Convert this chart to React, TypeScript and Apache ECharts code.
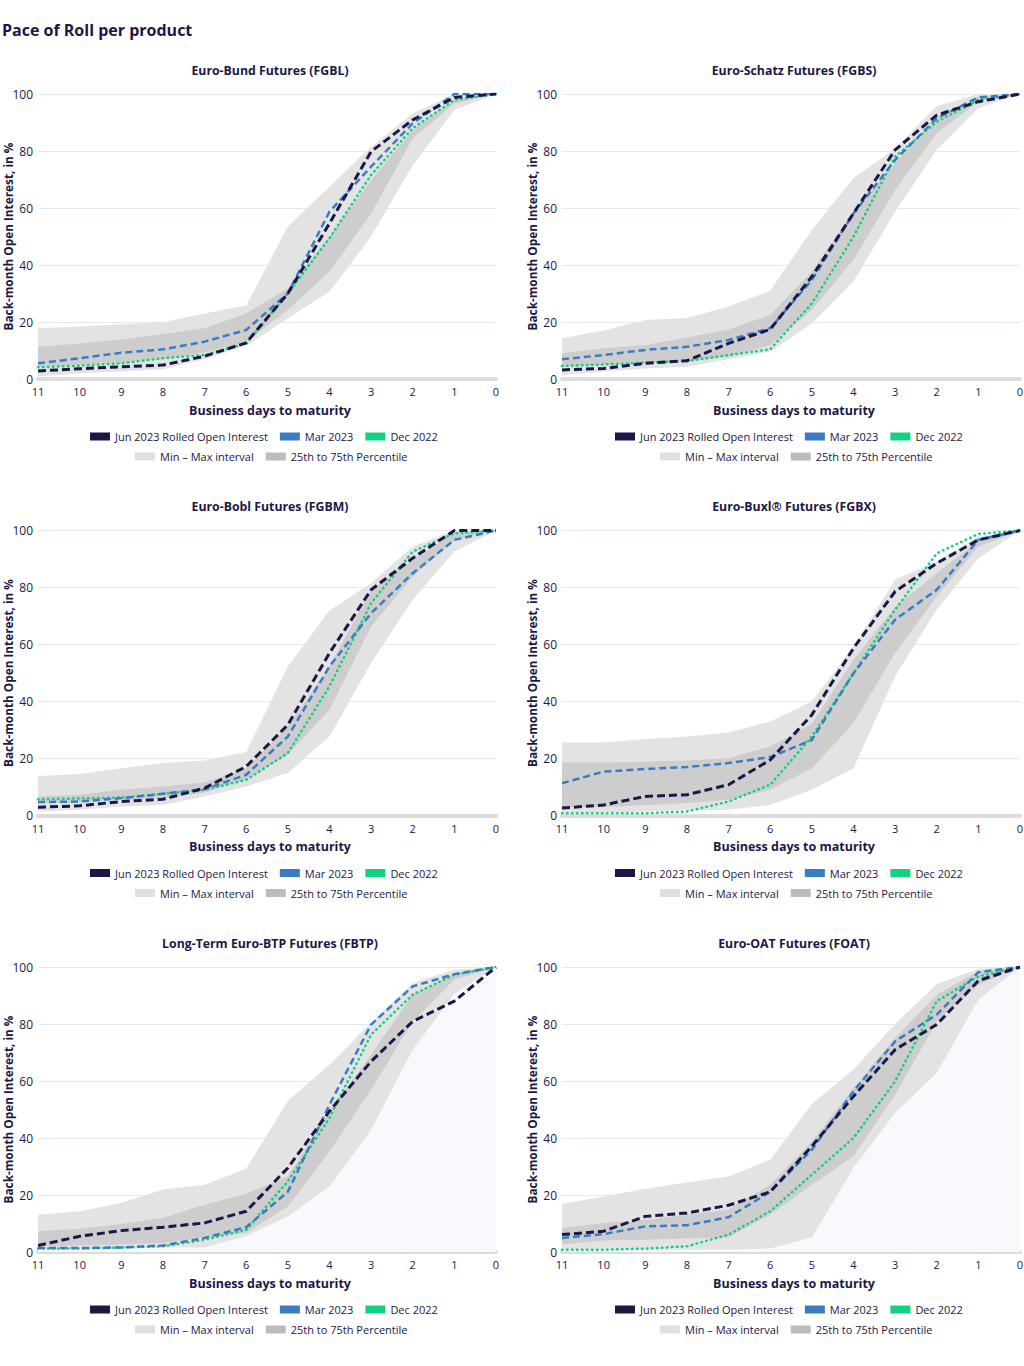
import React, { useEffect, useRef } from "react";
import * as echarts from "echarts";

const CATS = ["11", "10", "9", "8", "7", "6", "5", "4", "3", "2", "1", "0"];
const Y_TICKS = [0, 20, 40, 60, 80, 100];

const LEG_JUN = "Jun 2023 Rolled Open Interest";
const LEG_MAR = "Mar 2023";
const LEG_DEC = "Dec 2022";
const LEG_MM = "Min – Max interval";
const LEG_PP = "25th to 75th Percentile";
const Y_NAME = "Back-month Open Interest, in %";
const X_NAME = "Business days to maturity";

const TITLES = [
  "Euro-Bund Futures (FGBL)",
  "Euro-Schatz Futures (FGBS)",
  "Euro-Bobl Futures (FGBM)",
  "Euro-Buxl® Futures (FGBX)",
  "Long-Term Euro-BTP Futures (FBTP)",
  "Euro-OAT Futures (FOAT)",
];

// FGBL
const fgblJun = [2.8, 3.6, 4.3, 4.9, 8, 12.7, 30, 54.6, 79.8, 90.9, 98.8, 100];
const fgblMar = [5.5, 7.3, 9.2, 10.4, 13.1, 17.2, 30, 58.7, 74.5, 89.7, 100, 100];
const fgblDec = [4.1, 4.7, 5.5, 7.3, 8.4, 12.5, 30, 49.4, 71.6, 88, 97.9, 100];
const fgblMin = [1, 2, 2.6, 3.4, 6.9, 11.6, 21.3, 30.6, 50, 75, 94.4, 100];
const fgblMax = [17.8, 18.4, 19.2, 19.9, 23, 25.8, 53.5, 67.5, 81.5, 93.2, 100, 100];
const fgblP25 = [4.3, 4.9, 5.7, 6.9, 9.2, 13.1, 24.2, 37.7, 58, 84.4, 96.7, 100];
const fgblP75 = [11.3, 12.5, 13.9, 15.8, 17.8, 23, 31.8, 50, 69.8, 87.4, 97.9, 100];

// FGBS
const fgbsJun = [3.2, 3.7, 5.5, 6.4, 12.5, 17.4, 35.9, 58.1, 80.4, 92.6, 97.3, 100];
const fgbsMar = [6.9, 8.4, 10.2, 11.3, 13.7, 17.8, 34.7, 58.1, 76.8, 91.5, 98.8, 100];
const fgbsDec = [4.6, 5.1, 5.7, 6.3, 8.4, 10.4, 26.5, 49.9, 78, 90.3, 97.9, 100];
const fgbsMin = [1.4, 2.6, 3.7, 4.3, 6.9, 9.6, 19.5, 34.2, 58.7, 80.4, 95, 100];
const fgbsMax = [14.3, 17, 20.7, 21.4, 25.4, 31, 52.3, 70.4, 80.9, 95.8, 100, 100];
const fgbsP25 = [4.3, 4.9, 5.7, 6.1, 7.8, 11.9, 24.2, 41.8, 66.3, 86.2, 97.3, 100];
const fgbsP75 = [9, 10.8, 11.9, 14.6, 17.4, 22.5, 37.7, 58.7, 75.7, 92, 99, 100];

// FGBM
const fgbmJun = [2.9, 3.4, 4.9, 5.7, 9.6, 17.2, 31.8, 57, 79.2, 90.3, 100, 100];
const fgbmMar = [4.7, 4.9, 6.1, 7.6, 9.2, 14.3, 27.7, 52.3, 71, 85, 96.7, 100];
const fgbmDec = [5.7, 6, 6.3, 7.6, 9, 12.5, 21.9, 45.3, 74.5, 92.6, 99, 100];
const fgbmMin = [1.4, 2, 3.2, 3.7, 6.7, 10.2, 14.9, 27.7, 53.5, 75.7, 92.6, 100];
const fgbmMax = [13.9, 14.6, 16.6, 18.4, 19.3, 22.3, 52.3, 71.9, 81.5, 94.4, 100, 100];
const fgbmP25 = [4.3, 4.6, 5.5, 6.1, 8.1, 12.7, 21.3, 37.1, 66.3, 83.9, 96.7, 100];
const fgbmP75 = [6.7, 7.3, 9, 10.2, 11.6, 16.6, 31.2, 52.3, 79.2, 89.7, 99, 100];

// FGBX
const fgbxJun = [2.6, 3.7, 6.7, 7.3, 10.8, 19.5, 35.3, 58.7, 78.6, 88.5, 96.7, 100];
const fgbxMar = [11.3, 15.4, 16.3, 17, 18.4, 20.5, 26.5, 49.9, 68.7, 79.2, 96.7, 100];
const fgbxDec = [0.8, 0.8, 0.8, 1.4, 4.9, 10.8, 27.7, 49.9, 72.2, 92, 98.8, 100];
const fgbxMin = [0.8, 1, 1.4, 1.8, 2, 3.7, 9, 16.6, 48.8, 72.2, 90.3, 100];
const fgbxMax = [25.6, 25.6, 26.8, 27.7, 29.1, 33, 40, 59.3, 82.7, 89.1, 97.9, 100];
const fgbxP25 = [2.9, 2.9, 3.7, 4.3, 5.5, 9, 16.6, 32.4, 57, 76.8, 94.4, 100];
const fgbxP75 = [18.6, 18.6, 18.9, 19.3, 20.1, 24.2, 32.2, 54.6, 73.3, 85, 96.5, 100];

// FBTP
const fbtpJun = [2.3, 5.5, 7.5, 8.7, 10.2, 14.3, 29.5, 49.4, 66.9, 80.9, 88, 100];
const fbtpMar = [1.4, 1.4, 1.6, 2.3, 4.9, 8.7, 21.1, 51.7, 79.8, 93.2, 97.5, 100];
const fbtpDec = [1.2, 1.2, 1.6, 2, 4.3, 7.8, 24.8, 47, 76.3, 90.3, 97.3, 100];
const fbtpMin = [0.8, 1.2, 1.4, 1.6, 1.6, 5.5, 12.5, 23, 42.9, 71, 90.5, 100];
const fbtpMax = [13.1, 14.3, 17.2, 21.9, 23.6, 29.2, 53.1, 65.7, 80.4, 94.4, 99, 100];
const fbtpP25 = [2, 2.3, 2.6, 3.2, 5.1, 6.7, 16, 35.3, 57, 80.9, 95.6, 100];
const fbtpP75 = [7.3, 8.2, 9.8, 11.9, 16.6, 20.4, 26.5, 49.4, 69.2, 90.3, 97.5, 100];

// FOAT
const foatJun = [6.1, 7.3, 12.5, 13.7, 16.4, 21.1, 37.1, 54.6, 71, 79.8, 95.2, 100];
const foatMar = [4.9, 6.3, 9, 9.4, 12.2, 21.1, 35.9, 56.4, 73.9, 83.3, 98.2, 100];
const foatDec = [0.8, 0.8, 1.2, 2, 6.1, 14.3, 27.1, 40, 59.9, 88, 96.7, 100];
const foatMin = [0.8, 0.8, 0.8, 0.8, 0.8, 1.2, 5.1, 29.5, 48.8, 62.8, 88.5, 100];
const foatMax = [16.8, 19.5, 22.2, 24.4, 26.5, 32.4, 51.9, 64, 80, 94, 99.4, 100];
const foatP25 = [2.6, 4, 4.3, 4.7, 5.1, 13.1, 23.6, 33.6, 55.2, 80.9, 93.8, 100];
const foatP75 = [8.4, 10.2, 11.3, 13.1, 14.9, 23.6, 38.8, 57.5, 75, 90.3, 98.5, 100];

const PANELS = [
  { jun: fgblJun, mar: fgblMar, dec: fgblDec, min: fgblMin, max: fgblMax, p25: fgblP25, p75: fgblP75 },
  { jun: fgbsJun, mar: fgbsMar, dec: fgbsDec, min: fgbsMin, max: fgbsMax, p25: fgbsP25, p75: fgbsP75 },
  { jun: fgbmJun, mar: fgbmMar, dec: fgbmDec, min: fgbmMin, max: fgbmMax, p25: fgbmP25, p75: fgbmP75 },
  { jun: fgbxJun, mar: fgbxMar, dec: fgbxDec, min: fgbxMin, max: fgbxMax, p25: fgbxP25, p75: fgbxP75 },
  { jun: fbtpJun, mar: fbtpMar, dec: fbtpDec, min: fbtpMin, max: fbtpMax, p25: fbtpP25, p75: fbtpP75 },
  { jun: foatJun, mar: foatMar, dec: foatDec, min: foatMin, max: foatMax, p25: foatP25, p75: foatP75 },
];

const NAVY = "#1b1747";
const BLUE = "#3a7cc4";
const GREEN = "#10cf7f";
const BAND_LIGHT = "#e3e3e3";
const BAND_DARK = "#cdcdcd";
const FONT = "'Open Sans', sans-serif";

function buildOption() {
  const grids: any[] = [];
  const xAxes: any[] = [];
  const yAxes: any[] = [];
  const series: any[] = [];
  const legends: any[] = [];
  const graphics: any[] = [
    {
      type: "text",
      x: 2,
      y: 30,
      style: { text: "Pace of Roll per product", font: `bold 16px ${FONT}`, fill: NAVY, textVerticalAlign: "middle" },
    },
  ];

  PANELS.forEach((p, i) => {
    const col = i % 2;
    const row = Math.floor(i / 2);
    const gLeft = col === 0 ? 38 : 562;
    const gTop = 94 + row * 436.5;
    const gH = 285;
    const cx = col === 0 ? 270 : 794;
    grids.push({
      left: gLeft,
      top: gTop,
      width: 458,
      height: gH,
      containLabel: false,
      outerBoundsMode: "none",
    });
    xAxes.push({
      type: "category",
      gridIndex: i,
      data: CATS,
      boundaryGap: false,
      axisTick: { show: false },
      axisLine: { show: true, lineStyle: { color: "#dcdcdc", width: 4 } },
      axisLabel: { color: NAVY, fontSize: 11, margin: 7, fontFamily: FONT, interval: 0 },
      splitLine: { show: false },
    });
    yAxes.push({
      type: "value",
      gridIndex: i,
      min: Y_TICKS[0],
      max: Y_TICKS[Y_TICKS.length - 1],
      interval: 20,
      axisLine: { show: false },
      axisTick: { show: false },
      axisLabel: { color: NAVY, fontSize: 12, margin: 5, fontFamily: FONT },
      splitLine: { lineStyle: { color: "#e3eaea", width: 1 } },
    });

    graphics.push({
      type: "text",
      x: cx,
      y: gTop - 24,
      style: { text: TITLES[i], font: `bold 12.3px ${FONT}`, fill: NAVY, textAlign: "center", textVerticalAlign: "middle" },
    });
    graphics.push({
      type: "text",
      x: cx,
      y: gTop + gH + 31,
      style: { text: X_NAME, font: `bold 12.5px ${FONT}`, fill: NAVY, textAlign: "center", textVerticalAlign: "middle" },
    });
    graphics.push({
      type: "text",
      x: gLeft - 30,
      y: gTop + gH / 2,
      rotation: Math.PI / 2,
      style: { text: Y_NAME, font: `bold 11.8px ${FONT}`, fill: NAVY, textAlign: "center", textVerticalAlign: "middle" },
    });

    const tint = row === 2;
    const common = { xAxisIndex: i, yAxisIndex: i, symbol: "none", silent: true };
    series.push({
      ...common,
      type: "line",
      stack: "mm" + i,
      data: p.min,
      lineStyle: { opacity: 0, width: 0 },
      areaStyle: tint ? { color: "#f7f9fc", opacity: 1 } : undefined,
    });
    series.push({
      ...common,
      type: "line",
      name: LEG_MM,
      stack: "mm" + i,
      data: p.max.map((v, k) => v - p.min[k]),
      itemStyle: { color: BAND_LIGHT },
      lineStyle: { opacity: 0, width: 0 },
      areaStyle: { color: BAND_LIGHT, opacity: 1 },
    });
    series.push({
      ...common,
      type: "line",
      stack: "pp" + i,
      data: p.p25,
      lineStyle: { opacity: 0, width: 0 },
    });
    series.push({
      ...common,
      type: "line",
      name: LEG_PP,
      stack: "pp" + i,
      data: p.p75.map((v, k) => v - p.p25[k]),
      itemStyle: { color: BAND_DARK },
      lineStyle: { opacity: 0, width: 0 },
      areaStyle: { color: BAND_DARK, opacity: 1 },
    });
    series.push({
      ...common,
      type: "line",
      name: LEG_DEC,
      data: p.dec,
      itemStyle: { color: GREEN },
      lineStyle: { color: GREEN, width: 2.5, type: [0.5, 4.5], cap: "round" },
    });
    series.push({
      ...common,
      type: "line",
      name: LEG_MAR,
      data: p.mar,
      itemStyle: { color: BLUE },
      lineStyle: { color: BLUE, width: 2.5, type: [7, 4] },
    });
    series.push({
      ...common,
      type: "line",
      name: LEG_JUN,
      data: p.jun,
      itemStyle: { color: NAVY },
      lineStyle: { color: NAVY, width: 3, type: [8, 4] },
    });

    const legBase = {
      icon: "rect",
      itemWidth: 20,
      itemHeight: 8,
      itemGap: 12,
      padding: 0,
      selectedMode: false,
      textStyle: { color: NAVY, fontSize: 11, fontFamily: FONT },
    };
    legends.push({
      ...legBase,
      left: col === 0 ? 90 : 615,
      top: gTop + gH + 52,
      data: [
        { name: LEG_JUN, itemStyle: { color: NAVY } },
        { name: LEG_MAR, itemStyle: { color: BLUE } },
        { name: LEG_DEC, itemStyle: { color: "#12d282" } },
      ],
    });
    legends.push({
      ...legBase,
      left: col === 0 ? 135 : 660,
      top: gTop + gH + 72,
      data: [
        { name: LEG_MM, itemStyle: { color: "#e0e0e0" } },
        { name: LEG_PP, itemStyle: { color: "#bcbcbc" } },
      ],
    });
  });

  return {
    animation: false,
    textStyle: { fontFamily: FONT },
    grid: grids,
    xAxis: xAxes,
    yAxis: yAxes,
    series,
    legend: legends,
    graphic: graphics,
  };
}

export default function App() {
  const ref = useRef<HTMLDivElement>(null);
  useEffect(() => {
    if (!ref.current) return;
    const chart = echarts.init(ref.current, undefined, { renderer: "svg" });
    chart.setOption(buildOption() as any);
    return () => chart.dispose();
  }, []);
  return (
    <div
      ref={ref}
      style={{ position: "absolute", left: 0, top: 0, width: 1024, height: 1366, background: "#fff" }}
    />
  );
}
